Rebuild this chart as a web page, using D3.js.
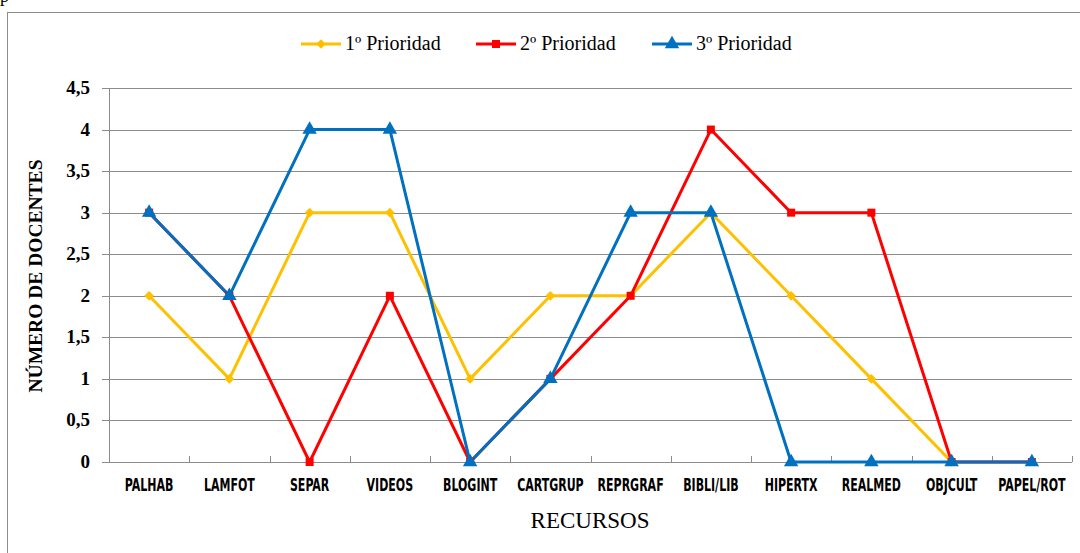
<!DOCTYPE html>
<html>
<head>
<meta charset="utf-8">
<script src="https://cdn.jsdelivr.net/npm/d3@7"></script>
<style>
  body { margin: 0; background: #fff; }
  svg { display: block; }
</style>
</head>
<body>
<svg id="svg" width="1080" height="553"></svg>
<script>
const w = 1080;
const h = 553;

// data
const categories = ["PALHAB", "LAMFOT", "SEPAR", "VIDEOS", "BLOGINT", "CARTGRUP",
  "REPRGRAF", "BIBLI/LIB", "HIPERTX", "REALMED", "OBJCULT", "PAPEL/ROT"];
const prioridad1 = [2, 1, 3, 3, 1, 2, 2, 3, 2, 1, 0, null];
const prioridad2 = [3, 2, 0, 2, 0, 1, 2, 4, 3, 3, 0, 0];
const prioridad3 = [3, 2, 4, 4, 0, 1, 3, 3, 0, 0, 0, 0];
const seriesNames = ["1º Prioridad", "2º Prioridad", "3º Prioridad"];
const yTicks = [0, 0.5, 1, 1.5, 2, 2.5, 3, 3.5, 4, 4.5];

const colors = ["#FFC000", "#FF0000", "#0070C0"];
const symbols = [d3.symbolDiamond2, d3.symbolSquare, d3.symbolTriangle];
const symSizes = [60, 64, 90];

const plotLeft = 109, plotRight = 1072, plotTop = 88, plotBottom = 462;

let svg = d3.select("#svg");

// outer frame of the chart
svg.append("rect")
  .attr("x", 7.5).attr("y", 12.5)
  .attr("width", 1100).attr("height", 600)
  .attr("fill", "none")
  .attr("stroke", "#8c8c8c")
  .attr("stroke-width", 1);

// cut-off text from the page above
svg.append("text")
  .attr("x", 0).attr("y", 2)
  .attr("font-family", "Liberation Serif")
  .attr("font-size", 18)
  .text("p");

let xScale = d3.scaleBand(categories, [plotLeft, plotRight]);
let yScale = d3.scaleLinear([0, 4.5], [plotBottom, plotTop]);

const fmt = d3.formatLocale({ decimal: ",", thousands: ".", grouping: [3], currency: ["", ""] }).format("~g");

// gridlines
svg.append("g")
  .selectAll("line")
  .data(yTicks)
  .join("line")
  .attr("x1", plotLeft - 7)
  .attr("x2", plotRight)
  .attr("y1", (d) => Math.round(yScale(d)) + 0.5)
  .attr("y2", (d) => Math.round(yScale(d)) + 0.5)
  .attr("stroke", "#8c8c8c")
  .attr("stroke-width", 1.2);

// y axis line
svg.append("line")
  .attr("x1", plotLeft + 0.5).attr("x2", plotLeft + 0.5)
  .attr("y1", plotTop).attr("y2", plotBottom)
  .attr("stroke", "#8c8c8c");

// x ticks at category boundaries
svg.append("g")
  .selectAll("line")
  .data(categories.map((c, i) => i + 1))
  .join("line")
  .attr("x1", (i) => Math.round(plotLeft + i * xScale.step()) + 0.5)
  .attr("x2", (i) => Math.round(plotLeft + i * xScale.step()) + 0.5)
  .attr("y1", plotBottom - 6)
  .attr("y2", plotBottom)
  .attr("stroke", "#8c8c8c");

// y tick labels
svg.append("g")
  .selectAll("text")
  .data(yTicks)
  .join("text")
  .attr("x", 90)
  .attr("y", (d) => yScale(d) + 6)
  .attr("text-anchor", "end")
  .attr("font-family", "Liberation Serif")
  .attr("font-weight", "bold")
  .attr("font-size", 19)
  .text((d) => fmt(d));

// x tick labels (narrow bold sans)
svg.append("g")
  .selectAll("text")
  .data(categories)
  .join("text")
  .attr("transform", (d) => `translate(${xScale(d) + xScale.bandwidth() / 2},491) scale(0.72,1)`)
  .attr("text-anchor", "middle")
  .attr("font-family", "DejaVu Sans Condensed, DejaVu Sans")
  .attr("font-stretch", "condensed")
  .attr("font-weight", "bold")
  .attr("font-size", 17)
  .text((d) => d);

// axis titles
svg.append("text")
  .attr("x", 590).attr("y", 528)
  .attr("text-anchor", "middle")
  .attr("font-family", "Liberation Serif")
  .attr("font-size", 23)
  .text("RECURSOS");

svg.append("text")
  .attr("transform", "translate(42,276) rotate(-90)")
  .attr("text-anchor", "middle")
  .attr("font-family", "Liberation Serif")
  .attr("font-weight", "bold")
  .attr("font-size", 19.5)
  .text("NÚMERO DE DOCENTES");

// series
const allSeries = [prioridad1, prioridad2, prioridad3];

let lineFunc = d3.line()
  .defined((d) => d !== null)
  .x((d, i) => xScale(categories[i]) + xScale.bandwidth() / 2)
  .y((d) => yScale(d));

allSeries.forEach((values, s) => {
  svg.append("path")
    .datum(values)
    .attr("fill", "none")
    .attr("stroke", colors[s])
    .attr("stroke-width", 3)
    .attr("stroke-linejoin", "round")
    .attr("d", lineFunc);
});

allSeries.forEach((values, s) => {
  svg.append("g")
    .selectAll("path")
    .data(values.map((v, i) => [categories[i], v]).filter((d) => d[1] !== null))
    .join("path")
    .attr("transform", (d) => `translate(${xScale(d[0]) + xScale.bandwidth() / 2},${yScale(d[1])})`)
    .attr("d", d3.symbol(symbols[s], symSizes[s]))
    .attr("fill", colors[s]);
});

// legend
const legendX = [301, 476, 652];
const legend = svg.append("g");
seriesNames.forEach((name, s) => {
  const g = legend.append("g").attr("transform", `translate(${legendX[s]},44)`);
  g.append("line")
    .attr("x1", 0).attr("x2", 40)
    .attr("stroke", colors[s])
    .attr("stroke-width", 3);
  g.append("path")
    .attr("transform", "translate(20,0)")
    .attr("d", d3.symbol(symbols[s], symSizes[s]))
    .attr("fill", colors[s]);
  g.append("text")
    .attr("x", 44).attr("y", 6)
    .attr("font-family", "Liberation Serif")
    .attr("font-size", 20)
    .text(name);
});
</script>
</body>
</html>
